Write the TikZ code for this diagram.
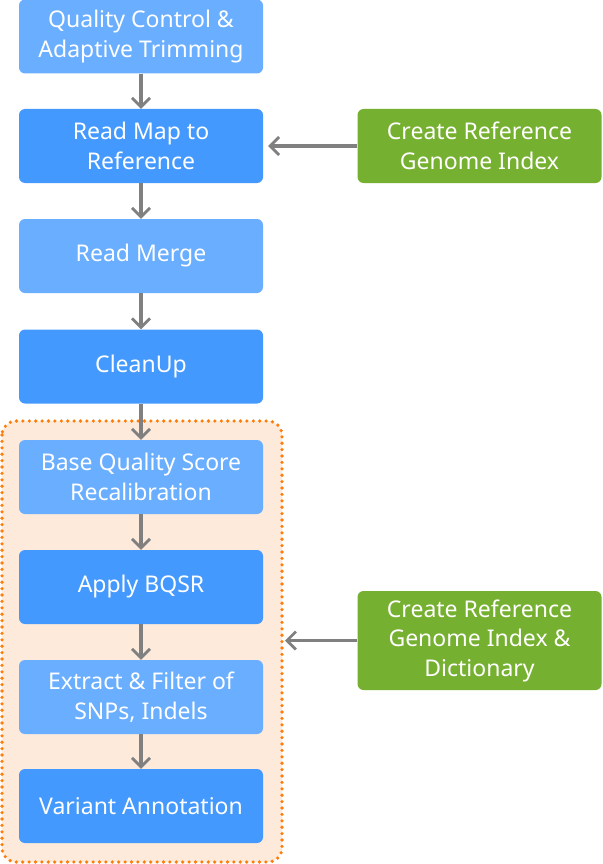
\documentclass[tikz,border=0pt]{standalone}
\usepackage{fontspec}
\setmainfont{Noto Sans}
\usetikzlibrary{arrows.meta}
\definecolor{lblue}{RGB}{106,174,255}
\definecolor{dblue}{RGB}{68,153,255}
\definecolor{grn}{RGB}{118,176,48}
\definecolor{org}{RGB}{255,125,10}
\definecolor{bgo}{RGB}{253,234,218}
\definecolor{arr}{RGB}{128,128,128}
\tikzset{
  box/.style={rounded corners=6pt, minimum width=244pt, minimum height=74pt, text=white, align=center, font=\fontsize{23}{29.5}\selectfont, inner sep=0pt},
  lb/.style={box, fill=lblue},
  db/.style={box, fill=dblue},
  gb/.style={box, fill=grn},
  conn/.style={draw=arr, line width=3.3pt, -{Straight Barb[length=9pt,width=18pt,line width=2.8pt]}},
}
\begin{document}
\begin{tikzpicture}[x=1pt,y=-1pt]
\useasboundingbox (0,0) rectangle (602,864);
\fill[bgo, rounded corners=14pt] (2,421) rectangle (282,862);
\draw[org, line width=3.6pt, dash pattern=on 0pt off 6.4pt, line cap=round, rounded corners=14pt] (2,421) rectangle (282,862);
\node[lb] (qc) at (141,36.5) {Quality Control \&\\Adaptive Trimming};
\node[db] (map) at (141,146) {Read Map to\\Reference};
\node[lb] (merge) at (141,256) {Read Merge};
\node[db] (clean) at (141,366.5) {CleanUp};
\node[lb] (bqsr) at (141,477) {Base Quality Score\\Recalibration};
\node[db] (apply) at (141,587) {Apply BQSR};
\node[lb] (snp) at (141,697) {Extract \& Filter of\\SNPs, Indels};
\node[db] (ann) at (141,806) {Variant Annotation};
\node[gb, minimum width=244pt] (idx) at (479.5,146) {Create Reference\\Genome Index};
\node[gb, minimum width=244pt, minimum height=99pt] (dict) at (479.5,640.5) {Create Reference\\Genome Index \&\\Dictionary};
\coordinate (grp) at (285,640.5);
\draw[conn] (qc) -- (map);
\draw[conn] (map) -- (merge);
\draw[conn] (merge) -- (clean);
\draw[conn] (clean) -- (bqsr);
\draw[conn] (bqsr) -- (apply);
\draw[conn] (apply) -- (snp);
\draw[conn] (snp) -- (ann);
\draw[conn] (idx) -- ([xshift=5pt]map.east);
\draw[conn] (dict) -- (grp);
\end{tikzpicture}
\end{document}
